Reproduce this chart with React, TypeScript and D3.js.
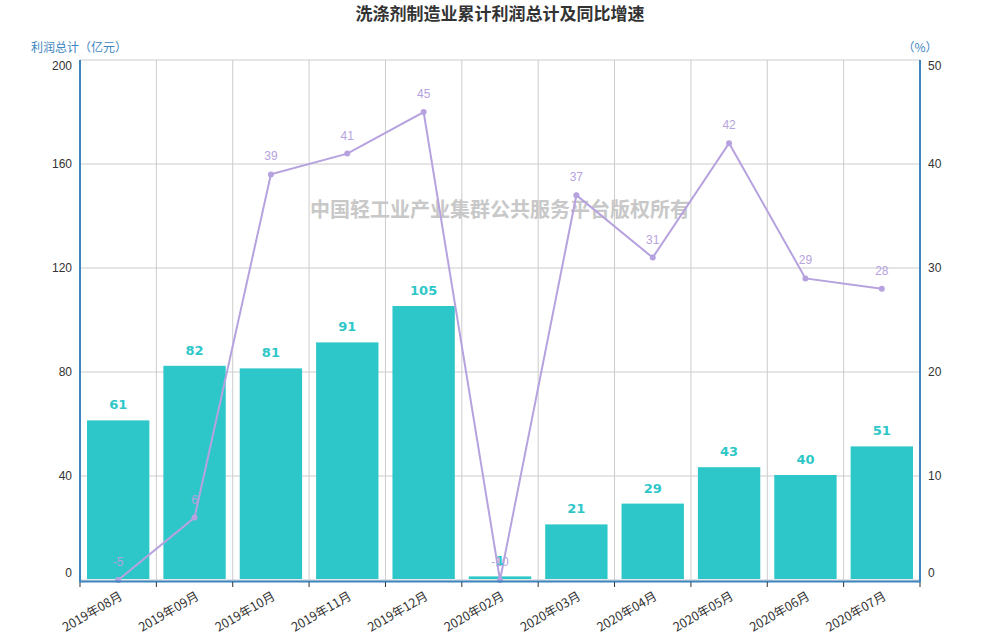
import * as d3 from "d3";

const width = 1000;
const height = 640;
const margin = { top: 60, right: 80, bottom: 60, left: 80 };

const months = [
  "2019年08月", "2019年09月", "2019年10月", "2019年11月", "2019年12月",
  "2020年02月", "2020年03月", "2020年04月", "2020年05月", "2020年06月", "2020年07月",
];
const profit = [61, 82, 81, 91, 105, 1, 21, 29, 43, 40, 51];
const growth = [-5, 6, 39, 41, 45, -10, 37, 31, 42, 29, 28];
const leftTicks = [0, 40, 80, 120, 160, 200];
const rightTicks = [0, 10, 20, 30, 40, 50];

const teal = "#2ec7c9";
const lavender = "#b6a2de";
const axisBlue = "#3d85c0";
const font = "'Liberation Sans', 'Noto Sans CJK SC', sans-serif";

export default function App() {
  const x0 = margin.left;
  const x1 = width - margin.right;
  const y0 = height - margin.bottom;
  const yTop = margin.top;

  const x = d3.scaleBand<string>().domain(months).range([x0, x1]).paddingInner(0).paddingOuter(0);
  const yL = d3.scaleLinear().domain([0, 200]).range([y0, yTop]);
  const yR = d3.scaleLinear().domain([0, 50]).range([y0, yTop]).clamp(true);
  const bw = x.bandwidth();
  const barPad = 7;

  const pts = months.map((m, i) => [x(m)! + bw / 2, yR(growth[i])] as [number, number]);
  const line = d3.line();

  const boundaries = months.map((m) => x(m)!).concat([x1]);

  // keep end labels inside the plot like the original
  const labelY = (v: number, y: number) => (v === 0 ? y - 7 : v === 200 || v === 50 ? y + 6 : y);

  return (
    <svg width={width} height={height} style={{ position: "absolute", left: 0, top: 0, fontFamily: font }}>
      <rect width={width} height={height} fill="#fff" />
      <text x={500} y={20} textAnchor="middle" fontSize={17} fontWeight="bold" fill="#333"
        fontFamily="'Noto Sans CJK SC', sans-serif">
        洗涤剂制造业累计利润总计及同比增速
      </text>

      {/* grid */}
      {leftTicks.map((t) => (
        <line key={"h" + t} x1={x0} x2={x1} y1={yL(t)} y2={yL(t)} stroke="#ccc" />
      ))}
      {boundaries.map((b, i) => (
        <line key={"v" + i} x1={b} x2={b} y1={yTop} y2={y0} stroke="#ccc" />
      ))}

      {/* watermark */}
      <text x={500} y={217} textAnchor="middle" fontSize={20} fontWeight="bold" fill="#c8c8c8"
        fontFamily="'Noto Sans CJK SC', sans-serif">
        中国轻工业产业集群公共服务平台版权所有
      </text>

      {/* bars */}
      {months.map((m, i) => (
        <rect key={"b" + m} x={x(m)! + barPad} width={bw - barPad * 2} y={yL(profit[i]) - 1}
          height={y0 - yL(profit[i])} fill={teal} />
      ))}

      {/* line */}
      <path d={line(pts) || ""} fill="none" stroke={lavender} strokeWidth={2} />
      {pts.map((p, i) => (
        <circle key={"c" + i} cx={p[0]} cy={p[1]} r={3} fill={lavender} />
      ))}

      {/* bar labels */}
      {months.map((m, i) => (
        <text key={"bl" + m} x={x(m)! + bw / 2} y={yL(profit[i]) - 12} textAnchor="middle"
          fontSize={13} fontWeight="bold" fill={teal} fontFamily="'DejaVu Sans', sans-serif">
          {profit[i]}
        </text>
      ))}
      {/* line labels */}
      {pts.map((p, i) => (
        <text key={"ll" + i} x={p[0]} y={p[1] - 14} textAnchor="middle" fontSize={12} fill={lavender}>
          {growth[i]}
        </text>
      ))}

      {/* axes */}
      <line x1={x0} x2={x0} y1={yTop} y2={y0 + 2} stroke={axisBlue} strokeWidth={2} />
      <line x1={x1} x2={x1} y1={yTop} y2={y0 + 2} stroke={axisBlue} strokeWidth={2} />
      <line x1={x0} x2={x1} y1={y0 + 1.5} y2={y0 + 1.5} stroke={axisBlue} strokeWidth={2} />
      {boundaries.map((b, i) => (
        <line key={"t" + i} x1={b} x2={b} y1={y0 + 2} y2={y0 + 7} stroke="#333" />
      ))}

      {leftTicks.map((t) => (
        <text key={"lt" + t} x={x0 - 8} y={labelY(t, yL(t))} dy="0.35em" textAnchor="end" fontSize={12} fill="#333">
          {t}
        </text>
      ))}
      {rightTicks.map((t) => (
        <text key={"rt" + t} x={x1 + 8} y={labelY(t, yR(t))} dy="0.35em" textAnchor="start" fontSize={12} fill="#333">
          {t}
        </text>
      ))}

      <text x={79} y={52} textAnchor="middle" fontSize={12} fill={axisBlue} fontFamily="'Noto Sans CJK SC', sans-serif">
        利润总计（亿元）
      </text>
      <text x={920} y={52} textAnchor="middle" fontSize={12} fill={axisBlue} fontFamily="'Noto Sans CJK SC', sans-serif">
        （%）
      </text>

      {months.map((m) => (
        <text key={"xl" + m} transform={`translate(${x(m)! + bw / 2 + 3},${y0 + 15}) rotate(-30)`}
          textAnchor="end" dy="0.35em" fontSize={12.5} fill="#333" fontFamily="'Noto Sans CJK SC', sans-serif">
          {m}
        </text>
      ))}
    </svg>
  );
}
